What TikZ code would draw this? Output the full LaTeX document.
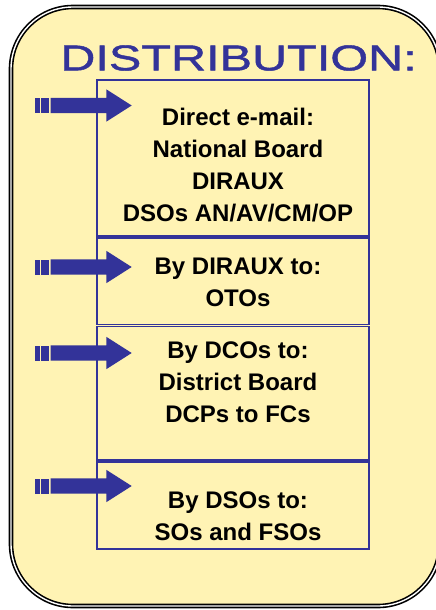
\documentclass[tikz,border=0pt]{standalone}
\usepackage{fontspec}
\setmainfont{Liberation Sans}
\newfontfamily\headfont[FakeStretch=1.35, FakeBold=1.2]{Liberation Sans}
\usetikzlibrary{shapes.arrows}
\definecolor{navy}{RGB}{51,51,153}
\definecolor{paper}{RGB}{255,243,180}

\begin{document}
\begin{tikzpicture}[x=1pt, y=-1pt]
\tikzstyle{frame}=[draw=black, line width=1.6pt, double=white, double distance=1.4pt, fill=paper, rounded corners=62pt]
\tikzstyle{distbox}=[draw=navy, line width=1.6pt, minimum width=272pt, inner sep=0pt]
\tikzstyle{txt}=[align=center, font=\fontsize{24}{32}\selectfont\bfseries]
\tikzstyle{arrowbody}=[single arrow, fill=navy, inner sep=7.5pt, single arrow head extend=8.5pt, single arrow tip angle=65, minimum height=81pt, anchor=tail]

\useasboundingbox (0,0) rectangle (436,610);

\draw[frame] (11,7) rectangle (440,606);

\node[text=navy, font=\headfont\fontsize{36}{36}\selectfont] (title) at (238.5,58) {DISTRIBUTION:};

\node[distbox, minimum height=156pt] (b1) at (233,158) {};
\node[distbox, minimum height=86.5pt] (b2) at (233,281.25) {};
\node[distbox, minimum height=133.5pt] (b3) at (233,393.25) {};
\node[distbox, minimum height=87pt] (b4) at (233,505.5) {};

\node[txt] (t1) at (238,165.5) {Direct e-mail:\\National Board\\DIRAUX\\DSOs AN/AV/CM/OP};
\node[txt] (t2) at (238,282.5) {By DIRAUX to:\\OTOs};
\node[txt] (t3) at (238,382) {By DCOs to:\\District Board\\DCPs to FCs};
\node[txt] (t4) at (238,516) {By DSOs to:\\SOs and FSOs};

\node[arrowbody] (a1) at (50.5,105.5) {};
\fill[navy] (35,98) rectangle (39.5,113);
\fill[navy] (41,98) rectangle (48.5,113);

\node[arrowbody] (a2) at (50.5,267) {};
\fill[navy] (35,259.5) rectangle (39.5,274.5);
\fill[navy] (41,259.5) rectangle (48.5,274.5);

\node[arrowbody] (a3) at (50.5,353) {};
\fill[navy] (35,345.5) rectangle (39.5,360.5);
\fill[navy] (41,345.5) rectangle (48.5,360.5);

\node[arrowbody] (a4) at (50.5,486) {};
\fill[navy] (35,478.5) rectangle (39.5,493.5);
\fill[navy] (41,478.5) rectangle (48.5,493.5);

\end{tikzpicture}
\end{document}
